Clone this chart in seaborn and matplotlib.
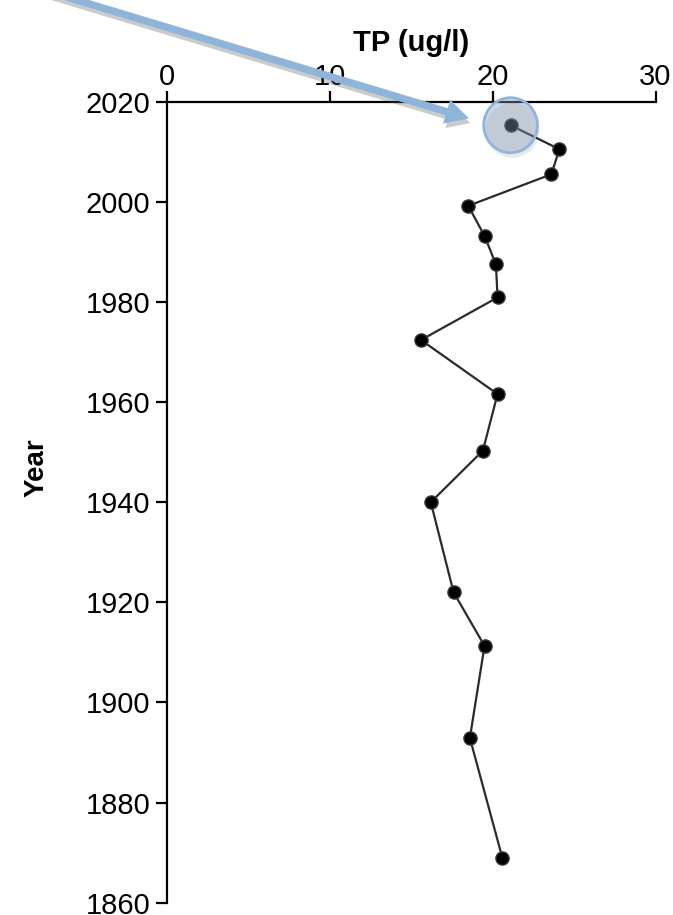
import matplotlib
matplotlib.use("Agg")
import matplotlib.pyplot as plt
import matplotlib.patheffects as pe
from matplotlib.patches import Ellipse
import seaborn as sns
import pandas as pd

# Total phosphorus reconstruction by sediment-core year
years = [2015.3, 2010.5, 2005.5, 1999.2, 1993.2, 1987.5, 1980.9, 1972.4,
         1961.6, 1950.3, 1940.0, 1922.0, 1911.3, 1892.9, 1868.9]
tp_values = [21.1, 24.1, 23.6, 18.5, 19.5, 20.2, 20.3, 15.6,
             20.3, 19.4, 16.2, 17.6, 19.5, 18.6, 20.6]
x_ticks = [0, 10, 20, 30]
y_ticks = [1860, 1880, 1900, 1920, 1940, 1960, 1980, 2000, 2020]
x_label = "TP (ug/l)"
y_label = "Year"

df = pd.DataFrame({"Year": years, "TP": tp_values})

sns.set_style("white")
plt.rcParams["font.family"] = ["Liberation Sans", "DejaVu Sans"]
plt.rcParams["text.color"] = "black"
plt.rcParams["axes.labelcolor"] = "black"

W, H, DPI = 673, 915, 100
fig = plt.figure(figsize=(W / DPI, H / DPI), dpi=DPI)
ax = fig.add_axes([167 / W, 1 - 902.7 / H, (655.5 - 167) / W, (902.7 - 101.7) / H])

sns.lineplot(data=df, x="TP", y="Year", sort=False, estimator=None, ax=ax,
             color="#2b2b2b", linewidth=1.6, marker="o", markersize=9.5,
             markerfacecolor="black", markeredgecolor="#3a3a3a",
             markeredgewidth=1.0, zorder=3)

ax.set_xlim(0, 30)
ax.set_ylim(1860, 2020)
ax.set_xticks(x_ticks)
ax.set_yticks(y_ticks)
ax.xaxis.tick_top()
ax.xaxis.set_label_position("top")
for side in ("right", "bottom"):
    ax.spines[side].set_visible(False)
for side in ("left", "top"):
    ax.spines[side].set_color("black")
    ax.spines[side].set_linewidth(1.6)
ax.tick_params(axis="both", direction="out", length=8, width=1.6,
               color="black", labelsize=21, labelcolor="black")
ax.tick_params(axis="x", pad=0, top=True, bottom=False)
ax.tick_params(axis="y", pad=4, left=True)
ax.set_xlabel(x_label, fontsize=21, fontweight="bold", labelpad=8)
ax.set_ylabel(y_label, fontsize=20, fontweight="bold")
ax.yaxis.set_label_coords(-0.24, 0.543)
ax.grid(False)

# Soft shadow under the highlight ring
ring_shadow = Ellipse((tp_values[0] + 0.12, years[0] - 1.0), width=3.3, height=11.0,
                      facecolor=(0.3, 0.3, 0.3, 0.12), edgecolor="none",
                      zorder=2, clip_on=False)
ax.add_patch(ring_shadow)

# Highlight ring around the most recent sample
ring = Ellipse((tp_values[0], years[0]), width=3.3, height=11.0,
               facecolor=(0.52, 0.61, 0.73, 0.40), edgecolor="#8fb5dc",
               linewidth=2.0, zorder=5, clip_on=False)
ax.add_patch(ring)

# Pointer arrow coming in from the upper left
ax.annotate("", xy=(18.5, 2016.7), xycoords="data",
            xytext=(50, H + 8), textcoords="figure pixels",
            annotation_clip=False, zorder=6,
            arrowprops=dict(arrowstyle="simple,head_length=0.8,head_width=0.85,tail_width=0.24",
                            mutation_scale=20, facecolor="#8fb4da", edgecolor="#8fb4da",
                            linewidth=0.5, shrinkA=0, shrinkB=0,
                            path_effects=[pe.SimplePatchShadow(offset=(1.5, -3.5),
                                                               shadow_rgbFace="#555555",
                                                               alpha=0.3),
                                          pe.Normal()]))

fig.savefig("out.png", dpi=DPI)
